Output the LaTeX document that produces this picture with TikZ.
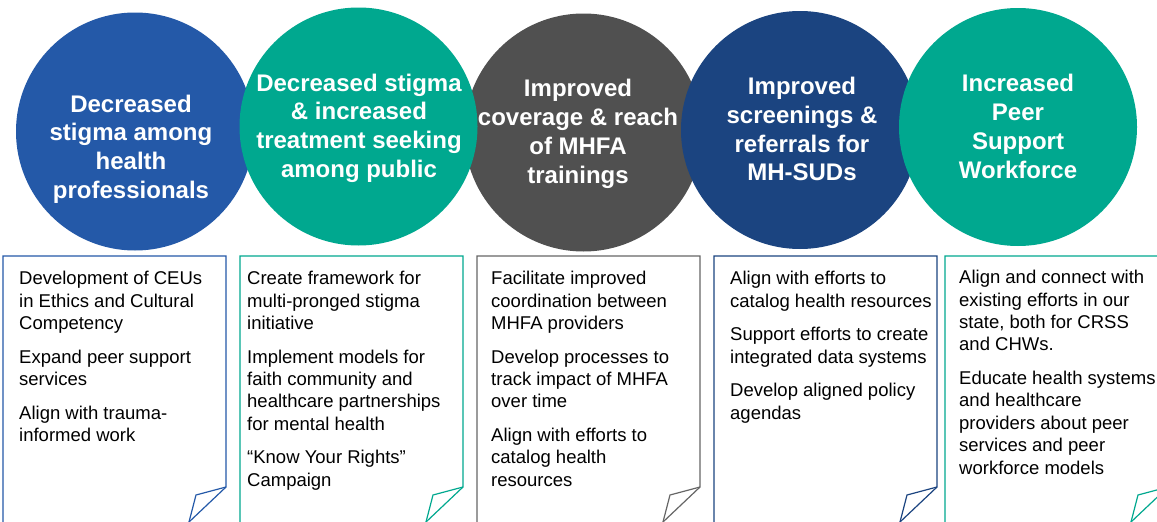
\documentclass[tikz,border=0pt]{standalone}
\usepackage{fontspec}
\setmainfont{Liberation Sans}
\usepackage{tikz}
\usetikzlibrary{positioning}

\definecolor{goalblue}{HTML}{2459A8}
\definecolor{goalteal}{HTML}{00A88F}
\definecolor{goalgray}{HTML}{505050}
\definecolor{goalnavy}{HTML}{1B4480}
\definecolor{boxgray}{HTML}{666666}

\tikzset{
  goal/.style={circle, minimum size=238pt, inner sep=0pt},
  goaltext/.style={text=white, align=center, inner sep=0pt,
    font=\fontsize{24}{28.8}\selectfont\bfseries},
  actionbox/.style={line width=1.2pt, line join=miter},
  actiontext/.style={anchor=north west, align=left, inner sep=0pt,
    font=\fontsize{18.5}{22.4}\selectfont},
}

\begin{document}
\begin{tikzpicture}[x=1pt,y=-1pt]
  \fill[white] (0,0) rectangle (1157,522);
  \useasboundingbox (0,0) rectangle (1157,522);
  \clip (0,0) rectangle (1157,522);

  % goal circles, the grey one sits behind its neighbours
  \node[goal,fill=goalgray] (g3) at (583.5,132.5) {};
  \node[goal,fill=goalblue] (g1) at (135,131.5) {};
  \node[goal,fill=goalteal] (g2) at (358.5,126.5) {};
  \node[goal,fill=goalnavy] (g4) at (800,130) {};
  \node[goal,fill=goalteal] (g5) at (1018,127) {};

  \node[goaltext] (t1) at (131,149) {Decreased\\stigma among\\health\\professionals};
  \node[goaltext] (t2) at (359,128.2) {Decreased stigma\\\& increased\\treatment seeking\\among public};
  \node[goaltext] (t3) at (578,134) {Improved\\coverage \& reach\\of MHFA\\trainings};
  \node[goaltext] (t4) at (802,129.1) {Improved\\screenings \&\\referrals for\\MH-SUDs};
  \node[goaltext] (t5) at (1018,126.5) {Increased\\Peer\\Support\\Workforce};

  % action boxes with a turned-up corner
  \foreach \x/\c in {3/goalblue, 240/goalteal, 477/boxgray, 714/goalnavy, 945/goalteal}
  {
    \draw[actionbox, draw=\c]
      (\x,526) -- (\x,256) -- ({\x+223},256) -- ({\x+223},487) -- ({\x+186},522);
    \draw[actionbox, draw=\c]
      ({\x+223},487) -- ({\x+193},495) -- ({\x+186},522);
  }

  \node[actiontext] (a1) at (19,271)
    {Development of CEUs\\in Ethics and Cultural\\Competency\\[11.2pt]
     Expand peer support\\services\\[11.2pt]
     Align with trauma-\\informed work};
  \node[actiontext] (a2) at (247,271)
    {Create framework for\\multi-pronged stigma\\initiative\\[11.2pt]
     Implement models for\\faith community and\\healthcare partnerships\\for mental health\\[11.2pt]
     “Know Your Rights”\\Campaign};
  \node[actiontext] (a3) at (491,271)
    {Facilitate improved\\coordination between\\MHFA providers\\[11.2pt]
     Develop processes to\\track impact of MHFA\\over time\\[11.2pt]
     Align with efforts to\\catalog health\\resources};
  \node[actiontext] (a4) at (730,271)
    {Align with efforts to\\catalog health resources\\[11.2pt]
     Support efforts to create\\integrated data systems\\[11.2pt]
     Develop aligned policy\\agendas};
  \node[actiontext] (a5) at (959,270)
    {Align and connect with\\existing efforts in our\\state, both for CRSS\\and CHWs.\\[11.2pt]
     Educate health systems\\and healthcare\\providers about peer\\services and peer\\workforce models};
\end{tikzpicture}
\end{document}
